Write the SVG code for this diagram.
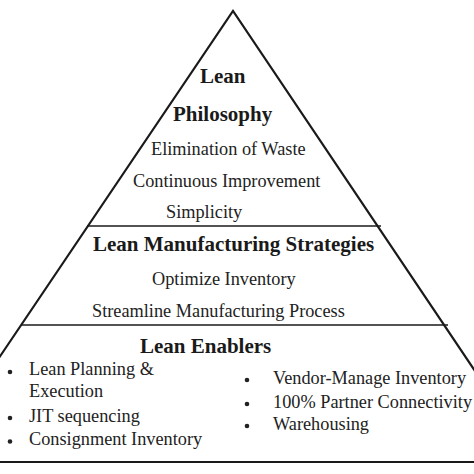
<svg xmlns="http://www.w3.org/2000/svg" width="474" height="474" viewBox="0 0 474 474">
<style>
.t{font-family:"Liberation Serif","Times New Roman",serif;font-size:18.3px;fill:#222}
.b{font-family:"Liberation Serif","Times New Roman",serif;font-size:21px;font-weight:bold;fill:#1a1a1a}
.ln{stroke:#1a1a1a;fill:none}
</style>
<rect width="474" height="474" fill="#fff"/>
<g id="connectors">
<polyline class="ln" stroke-width="2.2" points="-80,475 233,11 545,475"/>
<line class="ln" stroke-width="1.5" x1="87" y1="226" x2="381" y2="226"/>
<line class="ln" stroke-width="1.5" x1="21" y1="325" x2="448" y2="325"/>
<line class="ln" stroke-width="2.2" x1="0" y1="462" x2="474" y2="462"/>
</g>
<g id="philosophy">
<text class="b" x="200" y="83">Lean</text>
<text class="b" x="173" y="121">Philosophy</text>
<text class="t" x="151" y="155">Elimination of Waste</text>
<text class="t" x="133" y="187">Continuous Improvement</text>
<text class="t" x="166" y="218">Simplicity</text>
</g>
<g id="strategies">
<text class="b" x="93" y="251">Lean Manufacturing Strategies</text>
<text class="t" x="152" y="285">Optimize Inventory</text>
<text class="t" x="92" y="317">Streamline Manufacturing Process</text>
</g>
<g id="enablers">
<text class="b" x="140" y="353">Lean Enablers</text>
<g fill="#222">
<circle cx="10" cy="372" r="2.3"/>
<circle cx="10" cy="418" r="2.3"/>
<circle cx="10" cy="441.5" r="2.3"/>
<circle cx="247" cy="380" r="2.3"/>
<circle cx="247" cy="404" r="2.3"/>
<circle cx="247" cy="426" r="2.3"/>
</g>
<text class="t" x="29" y="375">Lean Planning &amp;</text>
<text class="t" x="29" y="397">Execution</text>
<text class="t" x="29" y="421.5">JIT sequencing</text>
<text class="t" x="29" y="445">Consignment Inventory</text>
<text class="t" x="273" y="384">Vendor-Manage Inventory</text>
<text class="t" x="273" y="408">100% Partner Connectivity</text>
<text class="t" x="273" y="430">Warehousing</text>
</g>
</svg>
